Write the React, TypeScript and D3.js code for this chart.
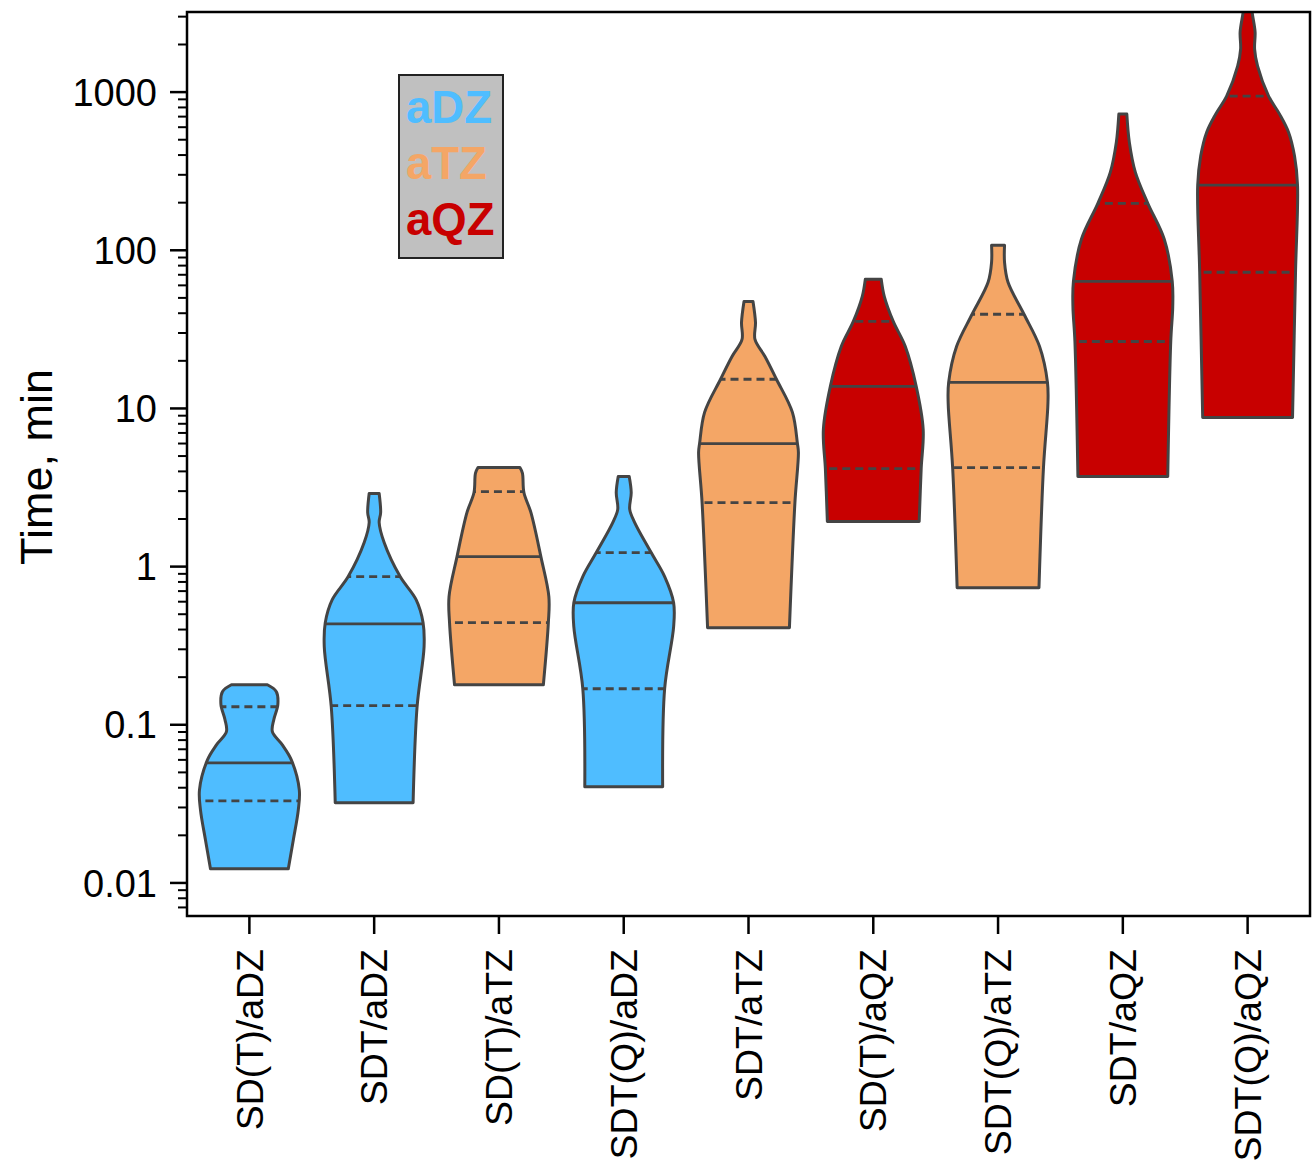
import React from "react";
import * as d3 from "d3";

const categories = ["SD(T)/aDZ", "SDT/aDZ", "SD(T)/aTZ", "SDT(Q)/aDZ", "SDT/aTZ", "SD(T)/aQZ", "SDT(Q)/aTZ", "SDT/aQZ", "SDT(Q)/aQZ"];
const basisOf = ["aDZ", "aDZ", "aTZ", "aDZ", "aTZ", "aQZ", "aTZ", "aQZ", "aQZ"];
const legendItems = ["aDZ", "aTZ", "aQZ"];
const basisColors: Record<string, string> = { aDZ: "#4FBDFF", aTZ: "#F4A666", aQZ: "#C80000" };

// density profiles (time values from max to min, relative half-width)
const profileValues = [
  [0.179, 0.162, 0.134, 0.108, 0.0904, 0.0746, 0.06, 0.0388, 0.029, 0.0187, 0.0123],
  [2.9, 2.2, 1.9, 1.42, 0.865, 0.618, 0.442, 0.312, 0.13, 0.0321],
  [4.23, 3.9, 2.94, 2.2, 1.157, 0.646, 0.442, 0.179],
  [3.71, 2.94, 2.3, 1.9, 1.227, 0.865, 0.591, 0.417, 0.169, 0.0405],
  [47.5, 35.0, 27.3, 21.3, 15.3, 9.44, 6.0, 5.27, 2.54, 0.411],
  [65.5, 51.2, 35.5, 24.7, 13.8, 7.36, 4.17, 1.93],
  [107.6, 83.9, 62.7, 39.4, 24.7, 14.6, 10.9, 4.23, 0.736],
  [726, 483, 312, 198, 117.4, 63.6, 44.2, 26.5, 3.71],
  [3606, 3210, 2399, 1872, 1461, 944, 726, 558, 394, 258, 72.6, 8.77],
];
const profileDensity = [
  [0.36, 0.54, 0.57, 0.49, 0.46, 0.66, 0.84, 1.0, 0.98, 0.88, 0.78],
  [0.1, 0.13, 0.1, 0.2, 0.52, 0.84, 0.98, 1.0, 0.86, 0.78],
  [0.42, 0.47, 0.5, 0.64, 0.84, 1.0, 0.99, 0.89],
  [0.11, 0.15, 0.12, 0.22, 0.55, 0.82, 1.0, 1.0, 0.82, 0.78],
  [0.09, 0.14, 0.13, 0.33, 0.56, 0.88, 0.98, 1.0, 0.93, 0.82],
  [0.16, 0.22, 0.4, 0.64, 0.86, 1.0, 0.96, 0.92],
  [0.13, 0.13, 0.2, 0.52, 0.83, 0.99, 1.0, 0.91, 0.82],
  [0.08, 0.13, 0.25, 0.5, 0.83, 0.99, 1.0, 0.96, 0.9],
  [0.08, 0.09, 0.15, 0.14, 0.2, 0.42, 0.64, 0.82, 0.94, 1.0, 0.96, 0.9],
];
const q1Values = [0.033, 0.132, 0.442, 0.169, 2.54, 4.17, 4.23, 26.5, 72.6];
const medianValues = [0.0575, 0.435, 1.157, 0.591, 6.0, 13.8, 14.6, 63.6, 258];
const q3Values = [0.13, 0.865, 2.98, 1.227, 15.3, 35.5, 39.4, 198, 944];

const yTickValues = [0.01, 0.1, 1, 10, 100, 1000];
const yTickLabels = ["0.01", "0.1", "1", "10", "100", "1000"];
const yDomain: [number, number] = [0.00618, 3210];

const W = 1313, H = 1162;
const M = { left: 187, right: 1310, top: 12, bottom: 916 };
const FONT = "'Liberation Sans', Arial, sans-serif";
const STROKE = "#444444";

export default function App() {
  const x = d3.scalePoint<string>().domain(categories).range([M.left, M.right]).padding(0.5);
  const y = d3.scaleLog().domain(yDomain).range([M.bottom, M.top]);
  const w = d3.scaleLinear().domain([0, 1]).range([0, x.step() * 0.4]);

  const minorTicks: number[] = [];
  for (let e = -3; e <= 3; e++) {
    for (let k = 2; k <= 9; k++) {
      const v = k * Math.pow(10, e);
      if (v >= yDomain[0] && v <= yDomain[1]) minorTicks.push(v);
    }
  }

  const violins = categories.map((c, i) => {
    const cx = x(c) as number;
    const pts = profileValues[i].map((v, j) => ({ v, d: profileDensity[i][j] }));
    const area = d3
      .area<{ v: number; d: number }>()
      .y((p) => y(p.v))
      .x0((p) => cx - w(p.d))
      .x1((p) => cx + w(p.d))
      .curve(d3.curveCatmullRom.alpha(0.5));
    return { cx, path: area(pts) as string, color: basisColors[basisOf[i]] };
  });

  return (
    <svg width={W} height={H} style={{ display: "block", position: "absolute", left: 0, top: 0 }}>
      <rect x={0} y={0} width={W} height={H} fill="#fff" />
      <defs>
        <clipPath id="plotClip">
          <rect x={M.left} y={M.top} width={M.right - M.left} height={M.bottom - M.top} />
        </clipPath>
        {violins.map((vl, i) => (
          <clipPath id={`vclip${i}`} key={i}>
            <path d={vl.path} />
          </clipPath>
        ))}
      </defs>

      <g clipPath="url(#plotClip)">
        {violins.map((vl, i) => (
          <g key={i}>
            <path d={vl.path} fill={vl.color} stroke="none" />
            <g clipPath={`url(#vclip${i})`}>
              {[q1Values[i], q3Values[i]].map((q, k) => (
                <line key={k} x1={vl.cx - 70} x2={vl.cx + 70} y1={y(q)} y2={y(q)} stroke={STROKE} strokeWidth={2.8} strokeDasharray="8,5" />
              ))}
              <line x1={vl.cx - 70} x2={vl.cx + 70} y1={y(medianValues[i])} y2={y(medianValues[i])} stroke={STROKE} strokeWidth={2.8} />
            </g>
            <path d={vl.path} fill="none" stroke={STROKE} strokeWidth={3} strokeLinejoin="round" />
          </g>
        ))}
      </g>

      {/* frame */}
      <rect x={M.left} y={M.top} width={M.right - M.left} height={M.bottom - M.top} fill="none" stroke="#000" strokeWidth={2.5} />

      {/* y ticks */}
      {minorTicks.map((v, i) => (
        <line key={i} x1={M.left - 9} x2={M.left} y1={y(v)} y2={y(v)} stroke="#000" strokeWidth={2} />
      ))}
      {yTickValues.map((v, i) => (
        <g key={i}>
          <line x1={M.left - 17} x2={M.left} y1={y(v)} y2={y(v)} stroke="#000" strokeWidth={2.5} />
          <text x={M.left - 30} y={y(v)} dy="0.36em" textAnchor="end" fontFamily={FONT} fontSize={38} fill="#000">
            {yTickLabels[i]}
          </text>
        </g>
      ))}
      <text transform={`translate(52,${(M.top + M.bottom) / 2 + 3}) rotate(-90)`} textAnchor="middle" fontFamily={FONT} fontSize={45} fill="#000">
        Time, min
      </text>

      {/* x ticks */}
      {categories.map((c, i) => (
        <g key={i}>
          <line x1={x(c) as number} x2={x(c) as number} y1={M.bottom} y2={M.bottom + 18} stroke="#000" strokeWidth={2.5} />
          <text transform={`translate(${x(c) as number},${M.bottom + 33}) rotate(-90)`} dy="0.35em" textAnchor="end" fontFamily={FONT} fontSize={37.5} fill="#000">
            {c}
          </text>
        </g>
      ))}

      {/* legend */}
      <rect x={399} y={75} width={104} height={183} fill="#C0C0C0" stroke="#222" strokeWidth={2} />
      {legendItems.map((b, i) => (
        <text key={b} x={406} y={123 + i * 56} fontFamily={FONT} fontWeight="bold" fontSize={45.5} fill={basisColors[b]}>
          {b}
        </text>
      ))}
    </svg>
  );
}
